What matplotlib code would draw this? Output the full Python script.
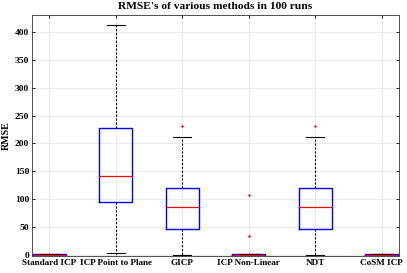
import matplotlib
matplotlib.use('Agg')
import matplotlib.pyplot as plt

# box statistics (MATLAB style boxplot)
methods = ['Standard ICP', 'ICP Point to Plane', 'GICP', 'ICP Non-Linear', 'NDT', 'CoSM ICP']
whislo = [0.0, 4.6, 0.5, 0.0, 0.5, 0.0]
q1 = [0.0, 96.0, 47.0, 0.0, 47.0, 0.0]
med = [0.5, 142.0, 86.0, 0.5, 86.0, 0.5]
q3 = [1.2, 228.0, 120.0, 1.2, 120.0, 1.2]
whishi = [1.5, 413.0, 212.0, 1.5, 212.0, 1.5]
fliers = [[0.8], [], [232.0], [107.0, 35.0, 0.5], [232.0], []]
yticks = [0, 50, 100, 150, 200, 250, 300, 350, 400]

plt.rcParams['font.family'] = 'Liberation Serif'
plt.rcParams['font.weight'] = 'bold'

fig = plt.figure(figsize=(4.07, 2.73), dpi=100)
ax = fig.add_axes([0.0786, 0.0623, 0.9014, 0.8827])

stats = []
for i in range(len(methods)):
    stats.append(dict(label=methods[i], whislo=whislo[i], q1=q1[i], med=med[i],
                      q3=q3[i], whishi=whishi[i], fliers=fliers[i]))

ax.bxp(stats, positions=range(1, 7), widths=0.5,
       boxprops=dict(color='blue', linewidth=1.0),
       medianprops=dict(color='red', linewidth=0.9),
       whiskerprops=dict(color='black', linestyle=(0, (2, 1.5)), linewidth=0.8),
       capprops=dict(color='black', linewidth=0.8),
       flierprops=dict(marker='+', markeredgecolor='red', markersize=2, linewidth=0),
       capwidths=0.27)

ax.set_xlim(0.74, 6.26)
ax.set_ylim(-1.5, 430)
ax.set_yticks(yticks)
ax.set_xticks(range(1, 7))
ax.set_xticklabels(methods, fontsize=6.6, fontweight='bold')
ax.tick_params(axis='y', labelsize=6.8)
ax.tick_params(direction='in', length=2, width=0.6, top=True, right=True, pad=2)
ax.grid(True, color='#e6e6e6', linewidth=0.6)
ax.set_axisbelow(True)
for s in ax.spines.values():
    s.set_linewidth(0.6)
    s.set_color('#333333')

ax.set_ylabel('RMSE', fontsize=7.2, fontweight='bold', labelpad=3)
ax.set_title("RMSE's of various methods in 100 runs", fontsize=8.2, fontweight='bold', pad=4)

fig.savefig('out.png', dpi=100)
